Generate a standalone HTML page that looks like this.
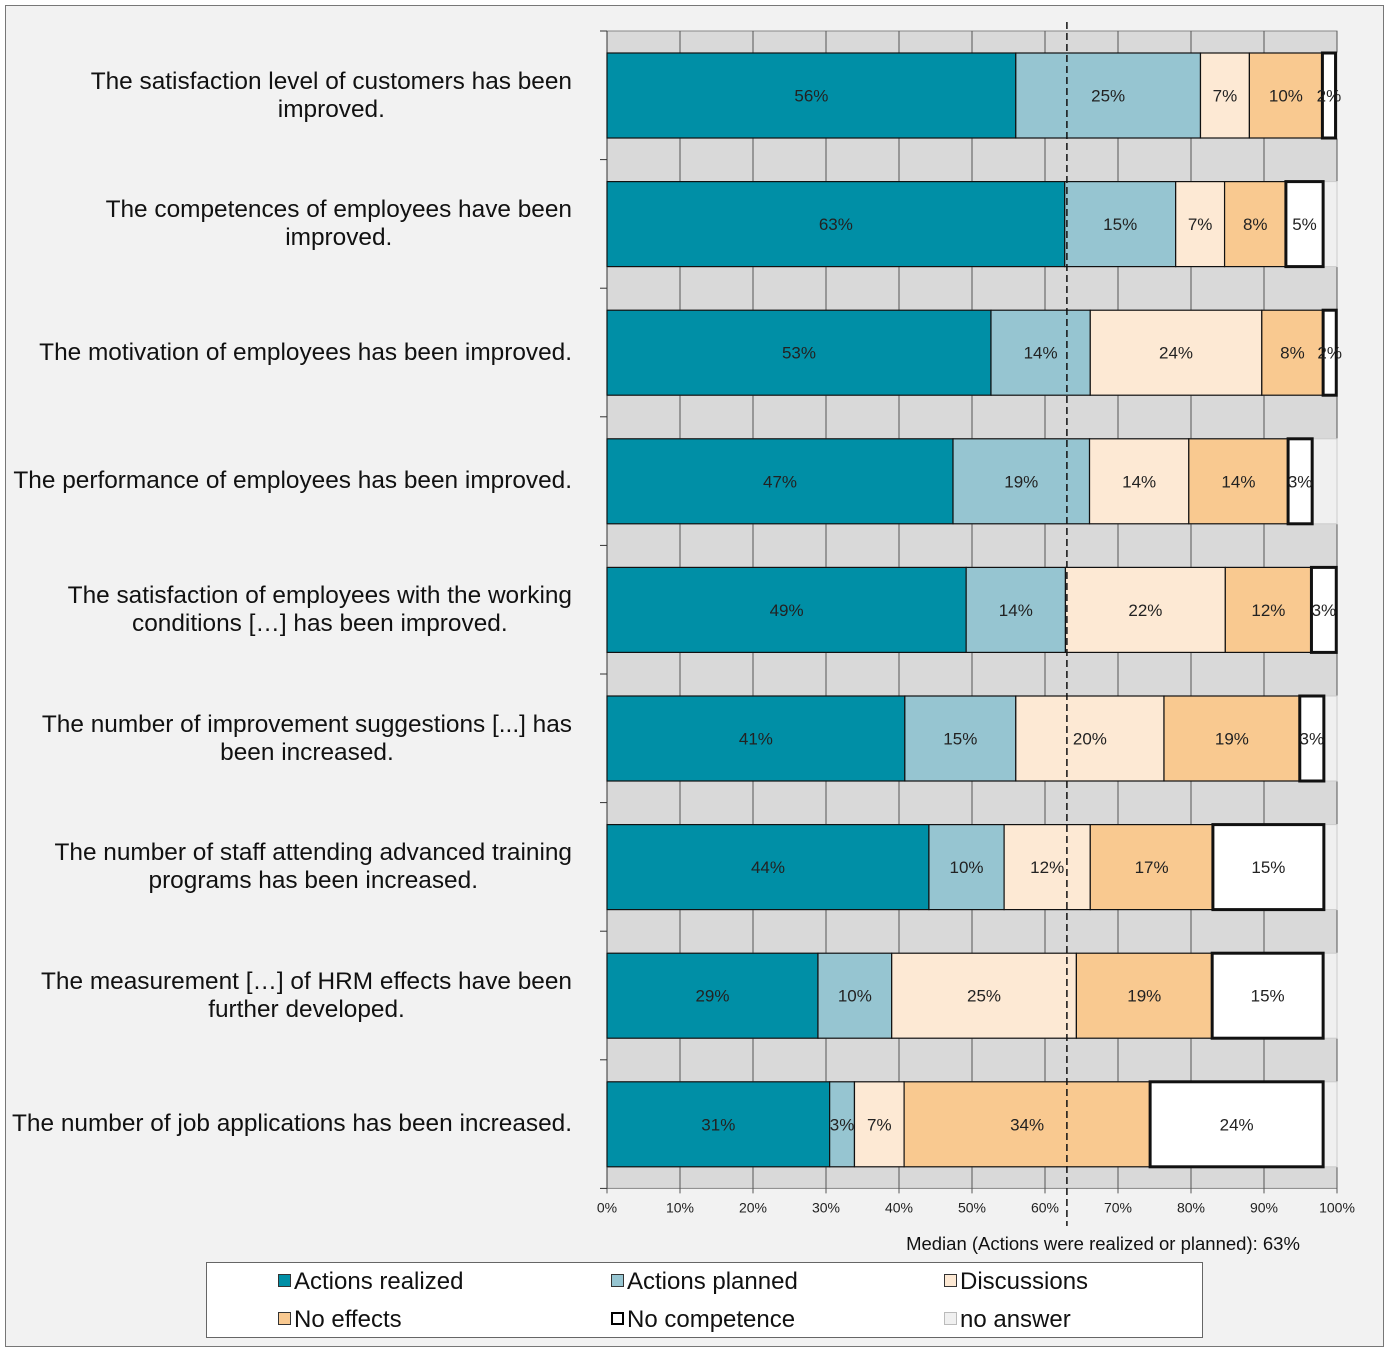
<!DOCTYPE html>
<html><head><meta charset="utf-8"><style>
html,body{margin:0;padding:0;background:#fff;}
#wrap{position:relative;width:1393px;height:1352px;background:#fff;font-family:"Liberation Sans",Arial,sans-serif;}
#frame{position:absolute;left:5px;top:5px;width:1379px;height:1342px;background:#f2f2f2;border:1px solid #777;box-sizing:border-box;}
.cat{position:absolute;right:821px;width:max-content;text-align:center;font-size:24.4px;line-height:28px;color:#111;transform:translateY(-50%);}
#legend{position:absolute;left:206px;top:1262px;width:997px;height:76px;background:#fff;border:1px solid #666;box-sizing:border-box;}
.li{position:absolute;font-size:24px;color:#111;line-height:26px;}
.sw{display:inline-block;width:11px;height:11px;border:1px solid #333;margin-right:3px;vertical-align:2px;}
</style></head><body>
<div id="wrap">
<div id="frame"></div>
<div id="cats"></div>
<svg id="plot" width="1393" height="1352" style="position:absolute;left:0;top:0"></svg>
<div id="legend">
 <div class="li" style="left:71px;top:6px"><span class="sw" style="background:#008fa6"></span>Actions realized</div>
 <div class="li" style="left:404px;top:6px"><span class="sw" style="background:#96c5d1"></span>Actions planned</div>
 <div class="li" style="left:737px;top:6px"><span class="sw" style="background:#fde9d4"></span>Discussions</div>
 <div class="li" style="left:71px;top:44px"><span class="sw" style="background:#f9c990"></span>No effects</div>
 <div class="li" style="left:404px;top:44px"><span class="sw" style="background:#fff;border:2px solid #000;width:9px;height:9px"></span>No competence</div>
 <div class="li" style="left:737px;top:44px"><span class="sw" style="background:#f0f0f0;border-color:#bbb"></span>no answer</div>
</div>
</div>
<script>
const categories=[
"The satisfaction level of customers has been<br>improved.",
"The competences of employees have been<br>improved.",
"The motivation of employees has been improved.",
"The performance of employees has been improved.",
"The satisfaction of employees with the working<br>conditions […] has been improved.",
"The number of improvement suggestions [...] has<br>been increased.",
"The number of staff attending advanced training<br>programs has been increased.",
"The measurement […] of HRM effects have been<br>further developed.",
"The number of job applications has been increased."];
const actionsRealized=[56.0,62.7,52.6,47.4,49.2,40.8,44.1,28.9,30.5];
const actionsPlanned=[25.3,15.2,13.6,18.7,13.6,15.2,10.3,10.1,3.4];
const discussions=[6.7,6.7,23.5,13.6,21.9,20.3,11.8,25.3,6.8];
const noEffects=[10.0,8.4,8.4,13.6,11.8,18.6,16.8,18.6,33.7];
const noCompetence=[1.8,5.1,1.8,3.3,3.4,3.3,15.2,15.2,23.7];
const xTicks=[0,10,20,30,40,50,60,70,80,90,100];
const median=63;

const X0=607,X1=1337,TOP=31,BAND=128.6,BOFF=22,BH=85;
const xs=v=>X0+(X1-X0)*v/100;
const ys=i=>TOP+BAND*i;
const NS="http://www.w3.org/2000/svg";
const svg=document.getElementById('plot');
function mk(t,a){const e=document.createElementNS(NS,t);for(const k in a)e.setAttribute(k,a[k]);svg.appendChild(e);return e;}
const n=categories.length, BOT=ys(n);
let bg=mk('rect',{x:X0,y:TOP,width:X1-X0,height:BOT-TOP,fill:'#d9d9d9',stroke:'#888','stroke-width':1});


xTicks.forEach(t=>{
 let l=mk('line',{x1:xs(t),x2:xs(t),y1:TOP,y2:BOT+5,stroke:'#555','stroke-width':1});
 
 
 let tx=mk('text',{x:xs(t),y:BOT+24,'text-anchor':'middle','font-size':14,fill:'#222'});
 tx.textContent=t+'%';
 
 
});
for(let i=0;i<=n;i++){let l=mk('line',{x1:X0-7,x2:X0,y1:ys(i),y2:ys(i),stroke:'#333','stroke-width':1});
 
 }
mk('line',{x1:X0,x2:X0,y1:TOP,y2:BOT,stroke:'#333','stroke-width':1});
const series=[
 {d:actionsRealized,fill:'#008fa6',name:'actions-realized'},
 {d:actionsPlanned,fill:'#96c5d1',name:'actions-planned'},
 {d:discussions,fill:'#fde9d4',name:'discussions'},
 {d:noEffects,fill:'#f9c990',name:'no-effects'},
 {d:noCompetence,fill:'#ffffff',name:'no-competence',thick:true}];
const catDiv=document.getElementById('cats');
for(let i=0;i<n;i++){
 const y=ys(i)+BOFF;
 let na=mk('rect',{x:X0,y:y,width:X1-X0,height:BH,fill:'#f0f0f0',stroke:'#ccc','stroke-width':1});
 
 
 let cum=0;
 series.forEach(s=>{
  const v=s.d[i];const x=xs(cum),w=xs(cum+v)-x;
  let r=mk('rect',{x:x,y:y,width:w,height:BH,fill:s.fill,stroke:'#111','stroke-width':s.thick?3:1.2});
  
  
  let t=mk('text',{x:x+w/2,y:y+BH/2+6,'text-anchor':'middle','font-size':17,fill:'#222'});
  t.textContent=Math.round(v)+'%';
  
  
  cum+=v;
 });
 const d=document.createElement('div');
 d.className='cat';d.style.top=(y+BH/2)+'px';d.innerHTML=categories[i];
 
 
 catDiv.appendChild(d);
}
let ml=mk('line',{x1:xs(median),x2:xs(median),y1:22,y2:1226,stroke:'#111','stroke-width':1.5,'stroke-dasharray':'7,4'});


let mt=mk('text',{x:1103,y:1250,'text-anchor':'middle','font-size':18.5,fill:'#111'});
mt.textContent='Median (Actions were realized or planned): '+median+'%';


</script>
</body></html>
